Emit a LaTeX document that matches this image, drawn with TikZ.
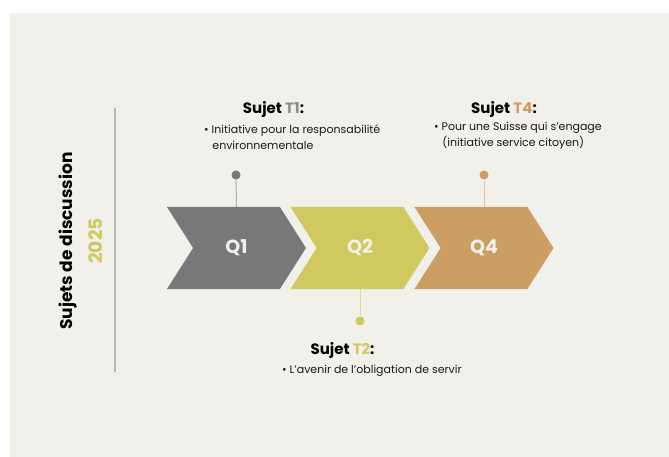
\documentclass[tikz,border=0pt]{standalone}
\usepackage{fontspec}
\setmainfont{Poppins}
\usepackage{tikz}
\usetikzlibrary{positioning,shapes.symbols}

\definecolor{paper}{HTML}{F1F0EB}
\definecolor{qgray}{HTML}{77787A}
\definecolor{qgreen}{HTML}{CFC95F}
\definecolor{qtan}{HTML}{CD9E64}
\definecolor{tgray}{HTML}{8E8E8E}
\definecolor{rule}{HTML}{B8B8B8}

\tikzset{
  chevron/.style={signal, signal to=east, signal from=west, signal pointer angle=115,
    minimum width=139pt, minimum height=82pt, inner sep=0pt, fill=#1,
    text=paper, font=\fontsize{19}{19}\selectfont\bfseries},
  pin/.style={circle, fill=#1, minimum size=9pt, inner sep=0pt},
  stem/.style={draw=#1!55!paper, line width=1pt},
  head/.style={font=\fontsize{15}{15}\selectfont\bfseries, inner sep=0pt, anchor=base},
  bullets/.style={font=\fontsize{11}{15.5}\selectfont, align=left, inner sep=0pt, text=black!90}
}

\begin{document}
\begin{tikzpicture}[x=1pt, y=-1pt]
    \useasboundingbox (0,0) rectangle (669,457);
    \fill[white] (0,0) rectangle (669,457);
    \fill[paper] (10,13) rectangle (669,457);

    % title on the left
    \node (title) [rotate=90, font=\fontsize{17}{17}\selectfont\bfseries] at (68,241) {Sujets de discussion};
    \node (year) [rotate=90, text=qgreen, font=\fontsize{18.5}{18.5}\selectfont\bfseries] at (96,241) {2025};
    \draw[rule, line width=1.5pt] (115,108) -- (115,372);

    % the three chevrons
    \node (q1) [chevron=qgray]  at (236.5,248) {Q1};
    \node (q2) [chevron=qgreen] at (360,248) {Q2};
    \node (q4) [chevron=qtan]   at (484,248) {Q4};

    % pins
    \node (p1) [pin=qgray]  at (236,175) {};
    \node (p2) [pin=qgreen] at (360,321) {};
    \node (p4) [pin=qtan]   at (484,175) {};
    \draw[stem=qgray]  (p1) -- (q1.north);
    \draw[stem=qgreen] (q2.south) -- (p2);
    \draw[stem=qtan]   (p4) -- (q4.north);

    % topics
    \node (h1) [head] at (273.5,114) {Sujet \textcolor{tgray}{T1}:};
    \node (b1) [bullets, anchor=north west] at (204,125)
      {• Initiative pour la responsabilité\\\hspace*{0.75em}environnementale};

    \node (h4) [head] at (504,114) {Sujet \textcolor{qtan}{T4}:};
    \node (b4) [bullets, anchor=north west] at (434,122)
      {• Pour une Suisse qui s'engage\\\hspace*{0.75em}(initiative service citoyen)};

    \node (h2) [head] at (342.5,354) {Sujet \textcolor{qgreen}{T2}:};
    \node (b2) [bullets, anchor=north west] at (282,365)
      {• L'avenir de l'obligation de servir};
\end{tikzpicture}
\end{document}
